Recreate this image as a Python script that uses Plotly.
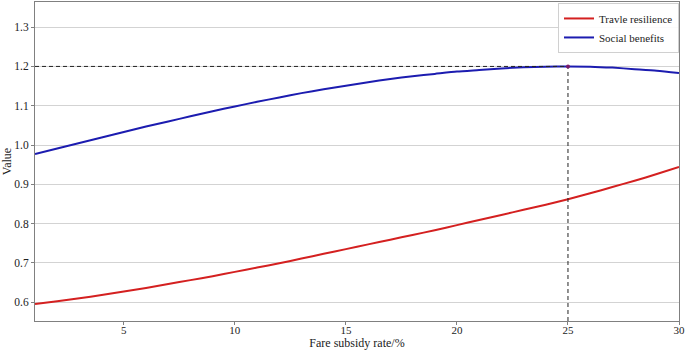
import plotly.graph_objects as go

subsidy_rate = list(range(1, 31))
travel_resilience = [0.595, 0.602, 0.610, 0.618, 0.627, 0.636, 0.646, 0.656, 0.666, 0.677,
                     0.688, 0.699, 0.711, 0.723, 0.735, 0.747, 0.759, 0.771, 0.783, 0.796,
                     0.809, 0.822, 0.835, 0.848, 0.862, 0.877, 0.893, 0.909, 0.926, 0.944]
social_benefits = [0.977, 0.991, 1.005, 1.019, 1.033, 1.047, 1.060, 1.073, 1.086, 1.098,
                   1.110, 1.121, 1.132, 1.142, 1.151, 1.160, 1.168, 1.175, 1.181, 1.187,
                   1.191, 1.195, 1.198, 1.1995, 1.200, 1.1995, 1.197, 1.193, 1.189, 1.183]
peak_x = 25
peak_y = 1.2
x_range = [1, 30]
y_range = [0.552, 1.364]
x_ticks = [5, 10, 15, 20, 25, 30]
y_ticks = [0.6, 0.7, 0.8, 0.9, 1.0, 1.1, 1.2, 1.3]
y_tick_text = ["0.6", "0.7", "0.8", "0.9", "1.0", "1.1", "1.2", "1.3"]

FONT = "Liberation Serif, Times New Roman, serif"

fig = go.Figure()
fig.add_trace(go.Scatter(x=subsidy_rate, y=travel_resilience, mode="lines",
                         name="Travle resilience", line=dict(color="#d42020", width=2, shape="spline", smoothing=0.6)))
fig.add_trace(go.Scatter(x=subsidy_rate, y=social_benefits, mode="lines",
                         name="Social benefits", line=dict(color="#1c1cb0", width=2, shape="spline", smoothing=0.6)))
# dashed guide lines
fig.add_trace(go.Scatter(x=[x_range[0], peak_x], y=[peak_y, peak_y], mode="lines",
                         line=dict(color="#222222", width=1, dash="4px,3px"), showlegend=False, hoverinfo="skip"))
fig.add_trace(go.Scatter(x=[peak_x, peak_x], y=[y_range[0], peak_y], mode="lines",
                         line=dict(color="#222222", width=1, dash="4px,3px"), showlegend=False, hoverinfo="skip"))
fig.add_trace(go.Scatter(x=[peak_x], y=[peak_y], mode="markers",
                         marker=dict(color="#7a1a6a", size=4), showlegend=False))

fig.update_layout(
    width=685, height=352,
    margin=dict(l=35, r=6, t=2, b=31, autoexpand=False),
    paper_bgcolor="white", plot_bgcolor="white",
    font=dict(family=FONT, size=11, color="#222222"),
    legend=dict(x=1.0, y=0.997, xanchor="right", yanchor="top",
                bgcolor="rgba(255,255,255,0.9)", bordercolor="#d0d0d0", borderwidth=1,
                font=dict(family=FONT, size=11), itemwidth=30, tracegroupgap=0),
    showlegend=True,
)
fig.update_xaxes(range=x_range, tickvals=x_ticks, showgrid=False, zeroline=False, automargin=False,
                 showline=True, linecolor="#808080", linewidth=1, mirror=True,
                 ticks="outside", ticklen=3, tickcolor="#808080", ticklabelstandoff=-4,
                 title=dict(text="Fare subsidy rate/%", font=dict(family=FONT, size=12), standoff=0),
                 tickfont=dict(family=FONT, size=11))
fig.update_yaxes(range=y_range, tickvals=y_ticks, ticktext=y_tick_text, automargin=False,
                 showgrid=True, gridcolor="#d3d3d3", gridwidth=1, zeroline=False,
                 showline=True, linecolor="#808080", linewidth=1, mirror=True,
                 ticks="outside", ticklen=3, tickcolor="#808080",
                 title=dict(text="Value", font=dict(family=FONT, size=12), standoff=4),
                 tickfont=dict(family=FONT, size=11.5))

fig.write_html("out.html", config={"displayModeBar": False},
               post_script="document.body.style.margin='0px';document.body.style.overflow='hidden';")
